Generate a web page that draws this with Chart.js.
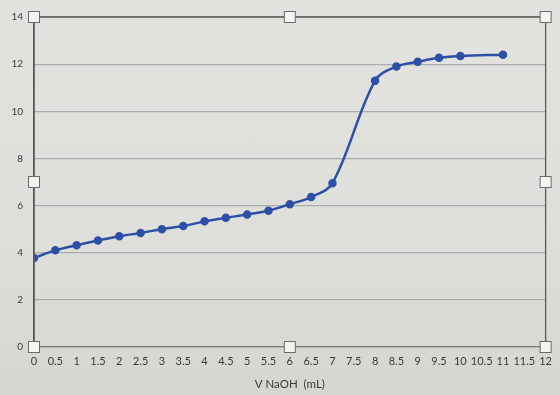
<!DOCTYPE html>
<html>
<head>
<meta charset="utf-8">
<script src="https://cdn.jsdelivr.net/npm/chart.js@4/dist/chart.umd.min.js"></script>
<style>
html,body{margin:0;padding:0;background:#dcdcd7;}
#wrap{width:560px;height:395px;background:linear-gradient(180deg,#e2e2de 0%,#dededa 60%,#d6d6d1 100%);}
</style>
</head>
<body>
<div id="wrap"><canvas id="c" width="560" height="395"></canvas></div>
<script>
const volumeNaOH = [0, 0.5, 1, 1.5, 2, 2.5, 3, 3.5, 4, 4.5, 5, 5.5, 6, 6.5, 7, 8, 8.5, 9, 9.5, 10, 11];
const pHValues   = [3.78, 4.1, 4.32, 4.52, 4.7, 4.84, 5.0, 5.13, 5.33, 5.48, 5.62, 5.78, 6.06, 6.36, 6.95, 11.3, 11.9, 12.1, 12.27, 12.35, 12.4];
const xTickStep = 0.5, xMin = 0, xMax = 12;
const yTickStep = 2, yMin = 0, yMax = 14;
const xTitle = 'V NaOH  (mL)';

const points = volumeNaOH.map((v, i) => ({x: v, y: pHValues[i]}));

const frame = {
  id: 'frame',
  afterDraw(chart) {
    const {ctx, chartArea: a} = chart;
    ctx.save();
    ctx.strokeStyle = '#5a5a5a';
    ctx.lineWidth = 1.3;
    ctx.beginPath();
    ctx.moveTo(a.left, a.bottom); ctx.lineTo(a.left, a.top); ctx.lineTo(a.right, a.top); ctx.lineTo(a.right, a.bottom);
    ctx.stroke();
    const mx = (a.left + a.right) / 2, my = (a.top + a.bottom) / 2;
    const hs = [[a.left,a.top],[mx,a.top],[a.right,a.top],[a.left,my],[a.right,my],[a.left,a.bottom],[mx,a.bottom],[a.right,a.bottom]];
    ctx.fillStyle = '#f4f4f2';
    ctx.strokeStyle = '#6a6a6a';
    ctx.lineWidth = 1;
    hs.forEach(([x,y]) => { ctx.fillRect(x-5.5,y-5.5,11,11); ctx.strokeRect(x-5.5,y-5.5,11,11); });
    ctx.restore();
  }
};

new Chart(document.getElementById('c'), {
  type: 'scatter',
  data: {
    datasets: [{
      data: points,
      showLine: true,
      tension: 0.35,
      borderColor: '#2c50a6',
      backgroundColor: '#2c50a6',
      borderWidth: 2.5,
      pointRadius: 3,
      pointHoverRadius: 3
    }]
  },
  options: {
    responsive: false,
    animation: false,
    layout: {padding: {left: 0, top: 17, right: 11, bottom: 0}},
    plugins: {legend: {display: false}, tooltip: {enabled: false}},
    scales: {
      x: {
        type: 'linear', min: xMin, max: xMax,
        afterFit(s) { s.height = 48; },
        grid: {display: false, drawTicks: false},
        border: {display: true, color: '#7a7a7a', width: 1.3},
        ticks: {
          stepSize: xTickStep, autoSkip: false, maxRotation: 0, padding: 8,
          color: '#3a3a3a', font: {family: 'Lato', size: 11},
          callback: v => String(v)
        },
        title: {display: true, text: xTitle, color: '#3a3a3a', padding: {top: 2}, font: {family: 'Lato', size: 11.5}}
      },
      y: {
        type: 'linear', min: yMin, max: yMax,
        afterFit(s) { s.width = 34; },
        grid: {color: '#ababab', lineWidth: 1.2, drawTicks: false},
        border: {display: true, color: '#555', width: 1.5},
        ticks: {
          stepSize: yTickStep, padding: 11,
          color: '#3a3a3a', font: {family: 'Lato', size: 10}
        }
      }
    }
  },
  plugins: [frame]
});
</script>
</body>
</html>
